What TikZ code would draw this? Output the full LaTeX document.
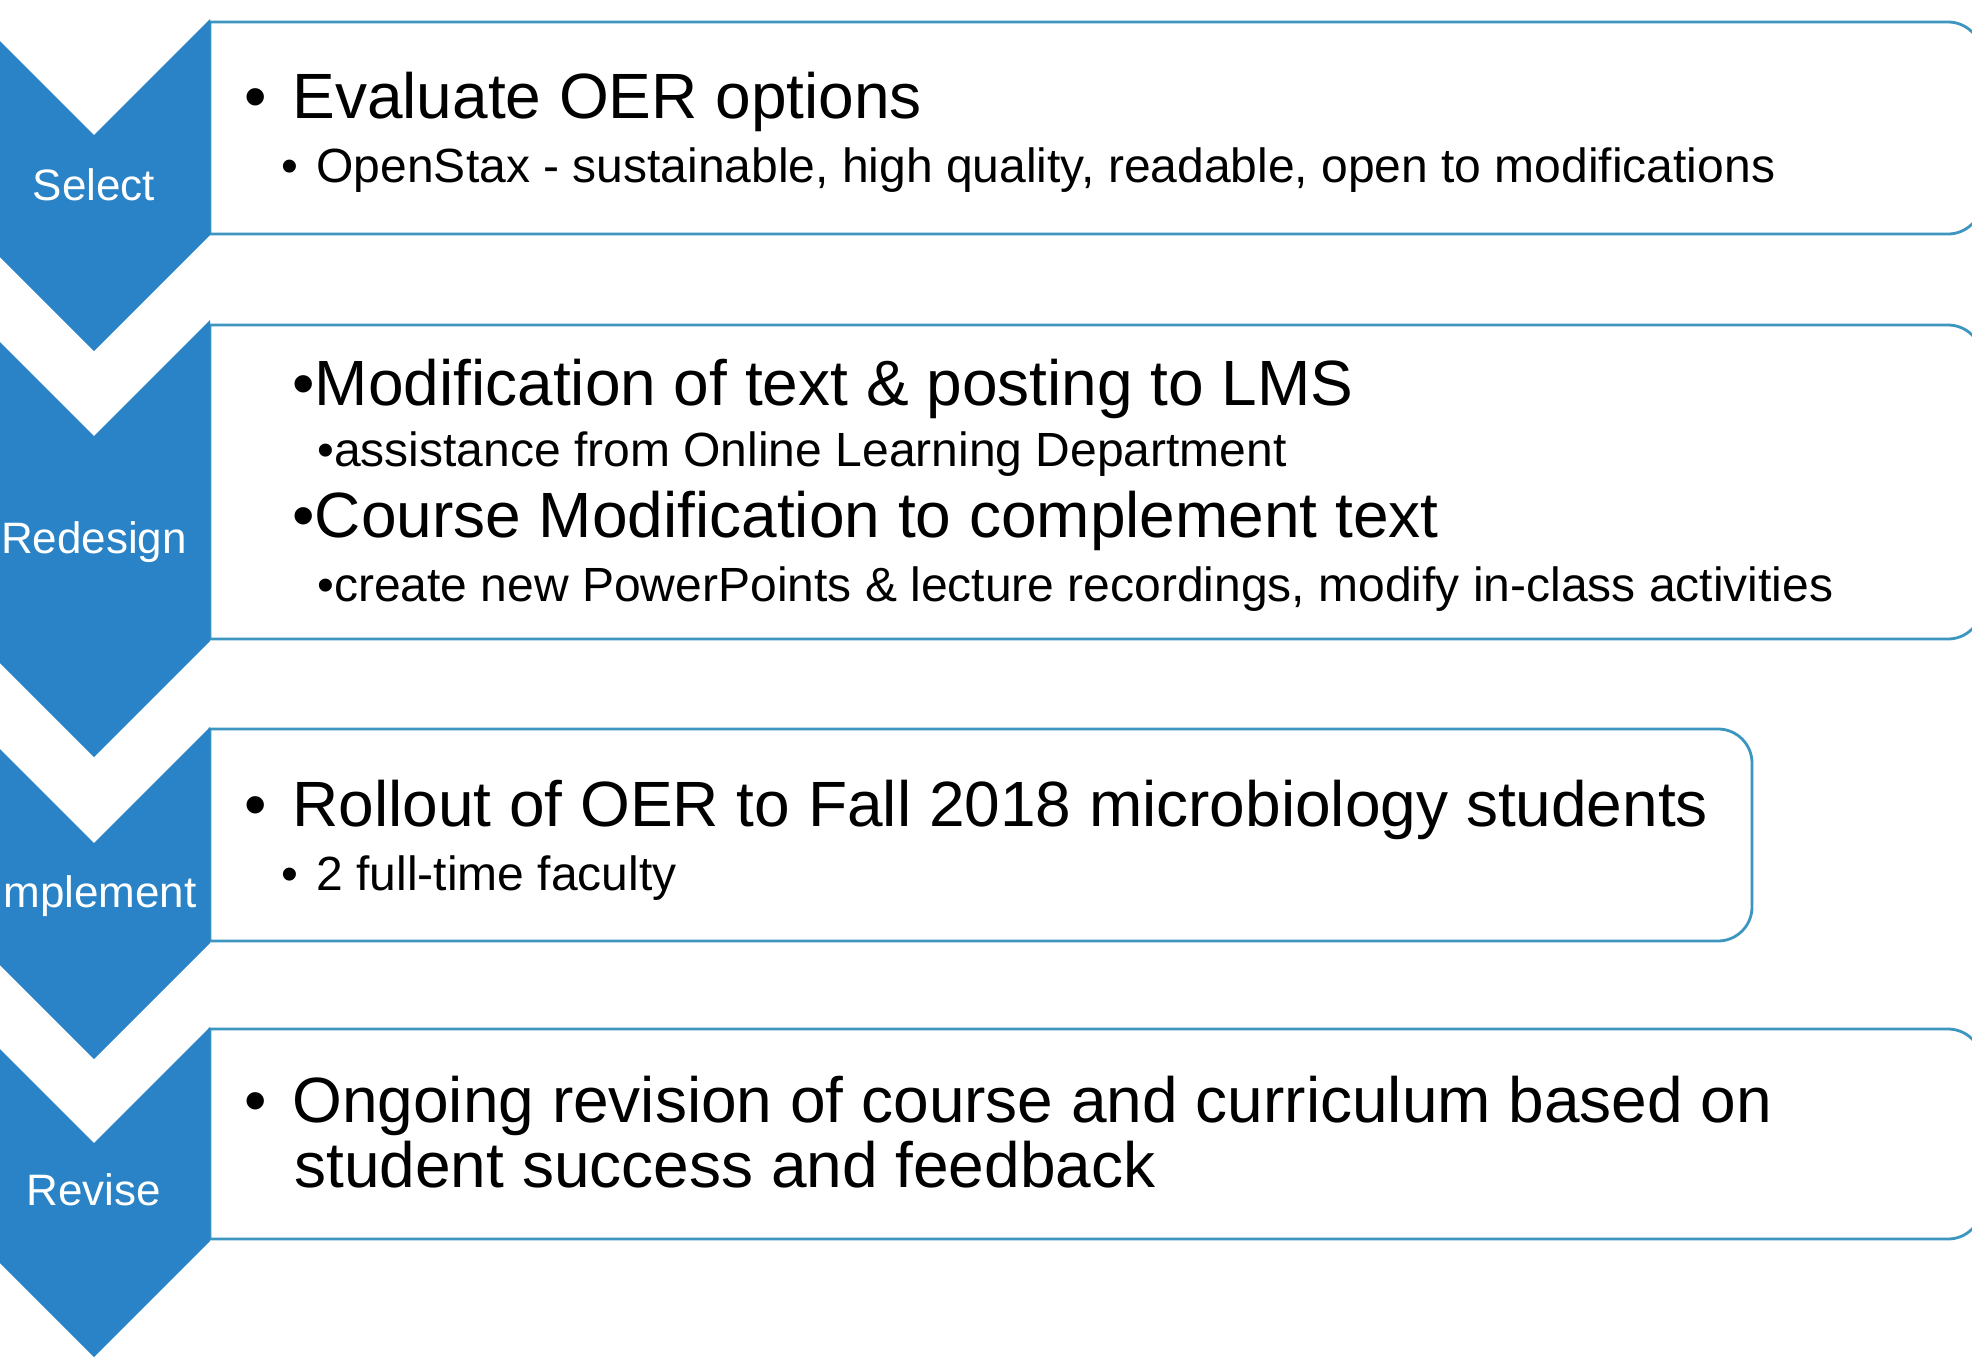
\documentclass[tikz,border=0pt]{standalone}
\usepackage{fontspec}
\setmainfont{Liberation Sans}
\usepackage{tikz}

\definecolor{chevblue}{RGB}{41,131,198}
\definecolor{edgeblue}{RGB}{60,150,192}

\begin{document}
\begin{tikzpicture}[x = 0.5pt, y = -0.5pt,
		chevron/.style = {fill = chevblue},
		panel/.style = {draw = edgeblue, line width = 1.4pt, fill = white},
		stage/.style = {anchor = base, inner sep = 0pt, text = white, font = \fontsize{22}{26}\selectfont},
		lvlone/.style = {anchor = base west, inner sep = 0pt, font = \fontsize{32}{38}\selectfont},
		lvltwo/.style = {anchor = base west, inner sep = 0pt, font = \fontsize{24}{29}\selectfont}]
		\useasboundingbox (0, 0) rectangle (1972, 1365);
		\clip (0, 0) rectangle (1972, 1365);
		\foreach \ya/\yb/\xr in {22/234/1982, 325/639/1982, 729/941/1752, 1029/1239/1982}
			\filldraw[panel] (210, \ya) -- (\xr - 34, \ya) arc (-90:0:34) -- (\xr, \yb - 34) arc (0:90:34) -- (210, \yb) -- cycle;
		\foreach \ya/\yb/\yl/\lbl in {19/235/200/Select, 320/641/553/Redesign, 727/943/907/Implement, 1027/1241/1205/Revise}
		{
			\fill[chevron] (-22, \ya) -- (94, \ya + 116) -- (210, \ya) -- (210, \yb) -- (94, \yb + 116) -- (-22, \yb) -- cycle;
			\node[stage] (\lbl) at (94, \yl) {\lbl};
		}
		\node[lvlone] (evaluate) at (244, 118) {\textbullet\hspace{12.8pt}Evaluate OER options};
		\node[lvltwo] (openstax) at (281, 182) {\textbullet\hspace{9.2pt}OpenStax - sustainable, high quality, readable, open to modifications};
		\node[lvlone] (modify) at (292, 405) {\textbullet Modification of text \& posting to LMS};
		\node[lvltwo] (assist) at (317, 466) {\textbullet assistance from Online Learning Department};
		\node[lvlone] (course) at (292, 537) {\textbullet Course Modification to complement text};
		\node[lvltwo] (create) at (317, 601) {\textbullet create new PowerPoints \& lecture recordings, modify in-class activities};
		\node[lvlone] (rollout) at (244, 826) {\textbullet\hspace{12.8pt}Rollout of OER to Fall 2018 microbiology students};
		\node[lvltwo] (faculty) at (281, 890) {\textbullet\hspace{9.2pt}2 full-time faculty};
		\node[lvlone] (ongoing) at (244, 1122) {\textbullet\hspace{12.8pt}Ongoing revision of course and curriculum based on};
		\node[lvlone] (success) at (294, 1187) {student success and feedback};
	\end{tikzpicture}
\end{document}
